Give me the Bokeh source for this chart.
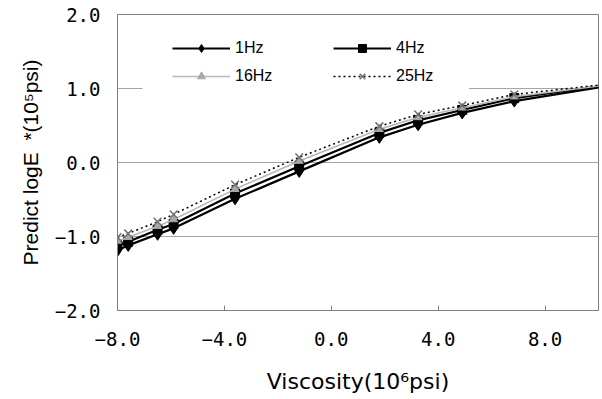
from bokeh.plotting import figure
from bokeh.models import (FixedTicker, Legend, LegendItem, BoxAnnotation)
from bokeh.embed import file_html
from bokeh.resources import INLINE

# ---- data ----
viscosity = [-8.0, -7.6, -6.5, -5.9, -3.6, -1.2, 1.8, 3.25, 4.9, 6.85, 10.6]
e_1hz = [-1.19, -1.12, -0.97, -0.89, -0.49, -0.12, 0.34, 0.51, 0.67, 0.83, 1.05]
e_4hz = [-1.12, -1.07, -0.91, -0.83, -0.42, -0.05, 0.40, 0.57, 0.71, 0.87, 1.06]
e_16hz = [-1.06, -1.01, -0.86, -0.77, -0.36, 0.02, 0.45, 0.61, 0.74, 0.89, 1.06]
e_25hz = [-1.01, -0.96, -0.80, -0.70, -0.30, 0.07, 0.49, 0.65, 0.77, 0.92, 1.07]

x_ticks = [-8, -4, 0, 4, 8]
x_tick_labels = ["\u22128.0", "\u22124.0", "0.0", "4.0", "8.0"]
y_ticks = [-2, -1, 0, 1, 2]
y_tick_labels = ["\u22122.0", "\u22121.0", "0.0", "1.0", "2.0"]
grid_values = [-1, 0, 1]

p = figure(width=600, height=398, x_range=(-8, 10), y_range=(-2, 2),
           output_backend="svg", toolbar_location=None,
           min_border_left=117, min_border_right=2,
           min_border_top=14, min_border_bottom=88)

p.outline_line_color = "#808080"
p.outline_line_width = 1
p.background_fill_color = "white"
p.border_fill_color = "white"

# grid
p.xgrid.grid_line_color = None
p.ygrid.ticker = FixedTicker(ticks=grid_values)
p.ygrid.grid_line_color = "#a6a6a6"
p.ygrid.grid_line_width = 1

# axes
xa = p.xaxis[0]
xa.ticker = FixedTicker(ticks=x_ticks)
xa.major_label_overrides = dict(zip(x_ticks, x_tick_labels))
xa.axis_line_color = "#808080"
xa.major_tick_line_color = "#808080"
xa.major_tick_in = 5
xa.major_tick_out = 0
xa.minor_tick_line_color = None
xa.major_label_text_font = "DejaVu Sans Mono"
xa.major_label_text_font_size = "19px"
xa.major_label_text_color = "black"
xa.major_label_standoff = 21
xa.axis_label = "Viscosity(10\u2076psi)"
xa.axis_label_text_font = "DejaVu Sans"
xa.axis_label_text_font_size = "22px"
xa.axis_label_text_font_style = "normal"
xa.axis_label_text_color = "black"
xa.axis_label_standoff = 20

ya = p.yaxis[0]
ya.ticker = FixedTicker(ticks=y_ticks)
ya.major_label_overrides = dict(zip(y_ticks, y_tick_labels))
ya.axis_line_color = "#808080"
ya.major_tick_line_color = None
ya.major_tick_in = 0
ya.major_tick_out = 0
ya.minor_tick_line_color = None
ya.major_label_text_font = "DejaVu Sans Mono"
ya.major_label_text_font_size = "19px"
ya.major_label_text_color = "black"
ya.major_label_standoff = 17
ya.axis_label = "Predict logE\u00a0\u00a0*(10\u2075psi)"
ya.axis_label_text_font = "Liberation Sans"
ya.axis_label_text_font_size = "21px"
ya.axis_label_text_font_style = "normal"
ya.axis_label_text_color = "black"
ya.axis_label_standoff = 10

# series
l1 = p.line(viscosity, e_1hz, line_color="black", line_width=2.2)
m1 = p.scatter(viscosity, e_1hz, marker="diamond", size=12, fill_color="black", line_color="black")
l4 = p.line(viscosity, e_4hz, line_color="black", line_width=2.2)
m4 = p.scatter(viscosity, e_4hz, marker="square", size=9, fill_color="black", line_color="black")
l16 = p.line(viscosity, e_16hz, line_color="#b8b8b8", line_width=1.6)
m16 = p.scatter(viscosity, e_16hz, marker="triangle", size=8, fill_color="#a8a8a8", line_color="#a8a8a8")
l25 = p.line(viscosity, e_25hz, line_color="black", line_width=1.5, line_dash="2 3")
m25 = p.scatter(viscosity, e_25hz, marker="x", size=11, line_color="#707070", line_width=1.5)

# white patch behind the legend (hides the gridline, like the original legend box)
cover = BoxAnnotation(left=-7.06, right=5.15, bottom=0.94, top=1.9,
                      fill_color="white", fill_alpha=1, line_color=None)
p.add_layout(cover)

legend = Legend(items=[
    LegendItem(label="1Hz", renderers=[l1, m1]),
    LegendItem(label="4Hz", renderers=[l4, m4]),
    LegendItem(label="16Hz", renderers=[l16, m16]),
    LegendItem(label="25Hz", renderers=[l25, m25]),
], location=(55, 224), orientation="horizontal", ncols=2, nrows=2)
legend.padding = 0
legend.margin = 0
legend.border_line_color = None
legend.background_fill_alpha = 0
legend.glyph_width = 58
legend.glyph_height = 20
legend.label_standoff = 5
legend.label_width = 90
legend.label_height = 20
legend.spacing = 8
legend.label_text_font = "Liberation Sans"
legend.label_text_font_size = "16px"
legend.label_text_color = "black"
legend.label_text_baseline = "middle"
p.add_layout(legend)

open("out.html", "w").write(file_html(p, INLINE))
